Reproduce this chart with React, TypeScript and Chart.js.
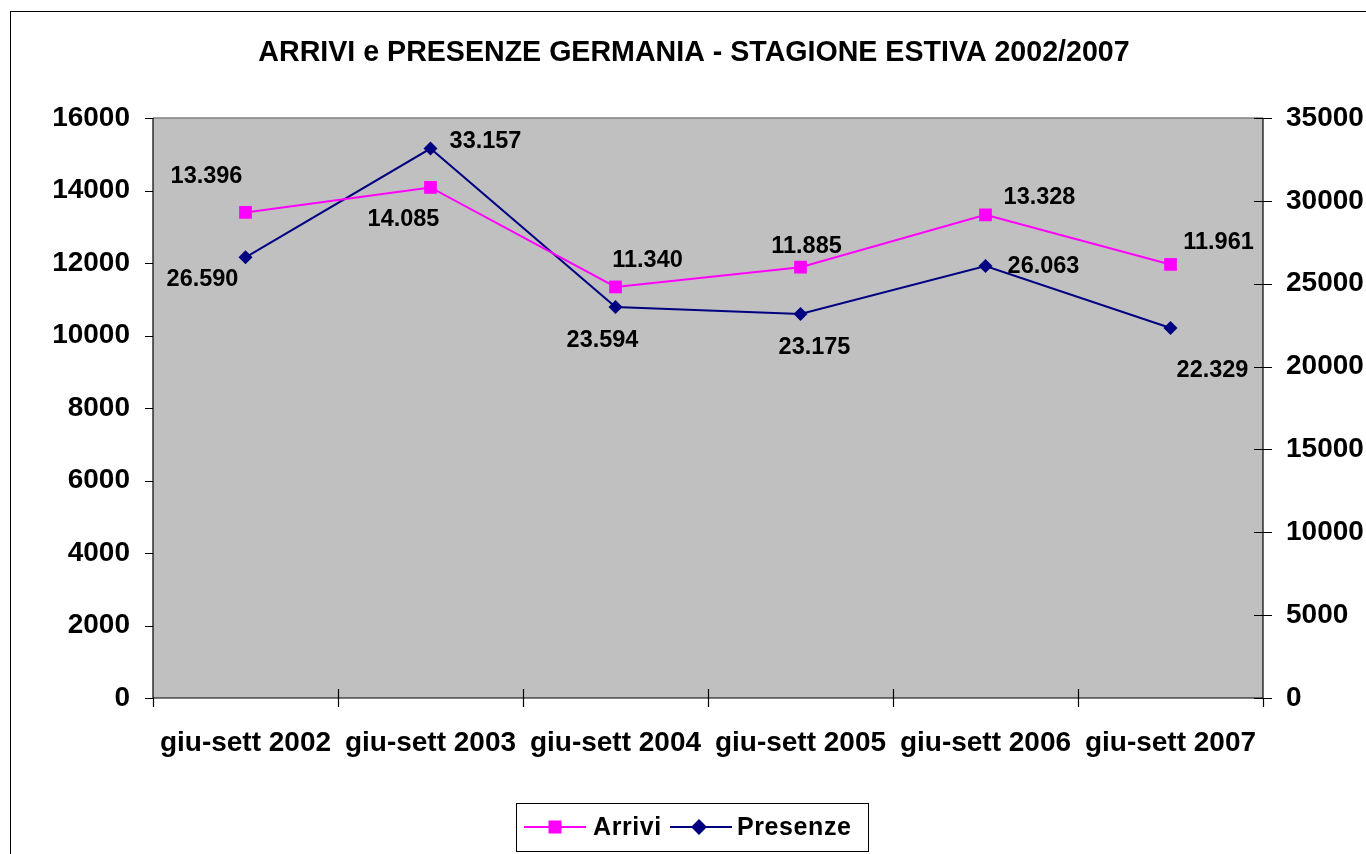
import React, { useEffect, useRef } from "react";
import { Chart, registerables } from "chart.js";

Chart.register(...registerables);

const title = "ARRIVI e PRESENZE GERMANIA - STAGIONE ESTIVA 2002/2007";
const categories = [
  "giu-sett 2002",
  "giu-sett 2003",
  "giu-sett 2004",
  "giu-sett 2005",
  "giu-sett 2006",
  "giu-sett 2007",
];
const arrivi = [13396, 14085, 11340, 11885, 13328, 11961];
const presenze = [26590, 33157, 23594, 23175, 26063, 22329];
const leftAxis = { min: 0, max: 16000, step: 2000 };
const rightAxis = { min: 0, max: 35000, step: 5000 };

// label placement offsets (pixels relative to each point)
const arriviLabelOffsets = [
  [-39, -36],
  [-27, 32],
  [32, -26],
  [6, -21],
  [54, -17],
  [48, -22],
];
const presenzeLabelOffsets = [
  [-43, 22],
  [55, -7],
  [-13, 34],
  [14, 34],
  [58, 0],
  [42, 43],
];

const MAGENTA = "#FF00FF";
const NAVY = "#000080";
const FONT = "'Liberation Sans', Arial, sans-serif";

function fmt(v: number): string {
  const s = Math.round(v).toString();
  return s.replace(/\B(?=(\d{3})+(?!\d))/g, ".");
}

const decorPlugin = {
  id: "decor",
  beforeDraw(chart: any) {
    const { ctx, chartArea: a, width, height } = chart;
    ctx.save();
    ctx.fillStyle = "#FFFFFF";
    ctx.fillRect(0, 0, width, height);
    // outer frame
    ctx.strokeStyle = "#000000";
    ctx.lineWidth = 1;
    ctx.strokeRect(10.5, 11.5, width + 20, height + 20);
    // plot area
    ctx.fillStyle = "#C0C0C0";
    ctx.fillRect(a.left, a.top, a.right - a.left, a.bottom - a.top);
    // title
    ctx.fillStyle = "#000000";
    ctx.font = `bold 28.6px ${FONT}`;
    ctx.textAlign = "center";
    ctx.textBaseline = "middle";
    ctx.fillText(title, 694, 53);
    ctx.restore();
  },
  beforeDatasetsDraw(chart: any) {
    const { ctx, chartArea: a, scales } = chart;
    ctx.save();
    // top border grey
    ctx.strokeStyle = "#808080";
    ctx.lineWidth = 1.5;
    ctx.beginPath();
    ctx.moveTo(a.left, a.top);
    ctx.lineTo(a.right, a.top);
    ctx.stroke();
    ctx.strokeStyle = "#000000";
    ctx.lineWidth = 1.2;
    ctx.beginPath();
    ctx.moveTo(a.left, a.top);
    ctx.lineTo(a.left, a.bottom);
    ctx.moveTo(a.right, a.top);
    ctx.lineTo(a.right, a.bottom);
    ctx.moveTo(a.left, a.bottom);
    ctx.lineTo(a.right, a.bottom);
    // left ticks
    const ys = scales.y;
    for (let v = leftAxis.min; v <= leftAxis.max; v += leftAxis.step) {
      const p = Math.round(ys.getPixelForValue(v)) + 0.5;
      ctx.moveTo(a.left - 8, p);
      ctx.lineTo(a.left, p);
    }
    const y1 = scales.y1;
    for (let v = rightAxis.min; v <= rightAxis.max; v += rightAxis.step) {
      const p = Math.round(y1.getPixelForValue(v)) + 0.5;
      ctx.moveTo(a.right - 9, p);
      ctx.lineTo(a.right + 9, p);
    }
    const xs = scales.x;
    const x0 = xs.getPixelForValue(0);
    const step = xs.getPixelForValue(1) - x0;
    for (let i = 0; i <= categories.length; i++) {
      const p = Math.round(x0 - step / 2 + i * step) + 0.5;
      const inner = i === 0 || i === categories.length ? 0 : 9;
      ctx.moveTo(p, a.bottom - inner);
      ctx.lineTo(p, a.bottom + 9);
    }
    ctx.stroke();
    ctx.restore();
  },
  afterDatasetsDraw(chart: any) {
    const { ctx } = chart;
    ctx.save();
    ctx.fillStyle = "#000000";
    ctx.font = `bold 23.5px ${FONT}`;
    ctx.textAlign = "center";
    ctx.textBaseline = "middle";
    const sets = [
      { idx: 0, data: arrivi, off: arriviLabelOffsets },
      { idx: 1, data: presenze, off: presenzeLabelOffsets },
    ];
    sets.forEach((s) => {
      const meta = chart.getDatasetMeta(s.idx);
      meta.data.forEach((el: any, i: number) => {
        ctx.fillText(fmt(s.data[i]), el.x + s.off[i][0], el.y + s.off[i][1]);
      });
    });
    ctx.restore();
  },
  afterDraw(chart: any) {
    const { ctx } = chart;
    ctx.save();
    // legend box
    ctx.strokeStyle = "#000000";
    ctx.lineWidth = 1;
    ctx.strokeRect(516.5, 803.5, 352, 48);
    const cy = 827;
    // Arrivi
    ctx.strokeStyle = MAGENTA;
    ctx.lineWidth = 2;
    ctx.beginPath();
    ctx.moveTo(524, cy);
    ctx.lineTo(586, cy);
    ctx.stroke();
    ctx.fillStyle = MAGENTA;
    ctx.fillRect(555 - 6.5, cy - 6.5, 13, 13);
    // Presenze
    ctx.strokeStyle = NAVY;
    ctx.beginPath();
    ctx.moveTo(670, cy);
    ctx.lineTo(732, cy);
    ctx.stroke();
    ctx.fillStyle = NAVY;
    ctx.beginPath();
    ctx.moveTo(699 - 8, cy);
    ctx.lineTo(699, cy - 8);
    ctx.lineTo(699 + 8, cy);
    ctx.lineTo(699, cy + 8);
    ctx.closePath();
    ctx.fill();
    ctx.fillStyle = "#000000";
    ctx.font = `bold 25px ${FONT}`;
    (ctx as any).letterSpacing = "0.6px";
    ctx.textAlign = "left";
    ctx.textBaseline = "middle";
    ctx.fillText("Arrivi", 593, cy + 1);
    ctx.fillText("Presenze", 737, cy + 1);
    ctx.restore();
  },
};

export default function App() {
  const ref = useRef<HTMLCanvasElement | null>(null);

  useEffect(() => {
    if (!ref.current) return;
    const tickFont = { family: FONT, size: 28, weight: "bold" as const };
    const plain = (v: any) => String(v);
    const chart = new Chart(ref.current, {
      type: "line",
      data: {
        labels: categories,
        datasets: [
          {
            label: "Arrivi",
            data: arrivi,
            yAxisID: "y",
            borderColor: MAGENTA,
            backgroundColor: MAGENTA,
            borderWidth: 2,
            pointStyle: "rect",
            pointRadius: 9,
            pointBorderWidth: 0,
            tension: 0,
          },
          {
            label: "Presenze",
            data: presenze,
            yAxisID: "y1",
            borderColor: NAVY,
            backgroundColor: NAVY,
            borderWidth: 2,
            pointStyle: "rectRot",
            pointRadius: 7,
            pointBorderWidth: 0,
            tension: 0,
          },
        ],
      },
      options: {
        responsive: false,
        animation: false,
        events: [],
        layout: { padding: { top: 118, bottom: 96, left: 0, right: 0 } },
        plugins: {
          legend: { display: false },
          title: { display: false },
          tooltip: { enabled: false },
        },
        scales: {
          x: {
            type: "category",
            offset: true,
            grid: { display: false, drawTicks: false },
            border: { display: false },
            ticks: {
              font: tickFont,
              color: "#000000",
              padding: 28,
              maxRotation: 0,
              minRotation: 0,
              autoSkip: false,
            },
            afterFit(scale: any) {
              scale.height = 60;
            },
          },
          y: {
            position: "left",
            min: leftAxis.min,
            max: leftAxis.max,
            grid: { display: false, drawTicks: false },
            border: { display: false },
            ticks: {
              stepSize: leftAxis.step,
              font: tickFont,
              color: "#000000",
              padding: 23,
              callback: plain,
            },
            afterFit(scale: any) {
              scale.width = 153;
            },
          },
          y1: {
            position: "right",
            min: rightAxis.min,
            max: rightAxis.max,
            grid: { display: false, drawTicks: false },
            border: { display: false },
            ticks: {
              stepSize: rightAxis.step,
              font: tickFont,
              color: "#000000",
              padding: 23,
              callback: plain,
            },
            afterFit(scale: any) {
              scale.width = 103;
            },
          },
        },
      },
      plugins: [decorPlugin],
    });
    return () => chart.destroy();
  }, []);

  return (
    <div
      style={{
        position: "fixed",
        left: 0,
        top: 0,
        width: 1366,
        height: 854,
        background: "#FFFFFF",
        overflow: "hidden",
      }}
    >
      <canvas ref={ref} width={1366} height={854} style={{ display: "block" }} />
    </div>
  );
}
